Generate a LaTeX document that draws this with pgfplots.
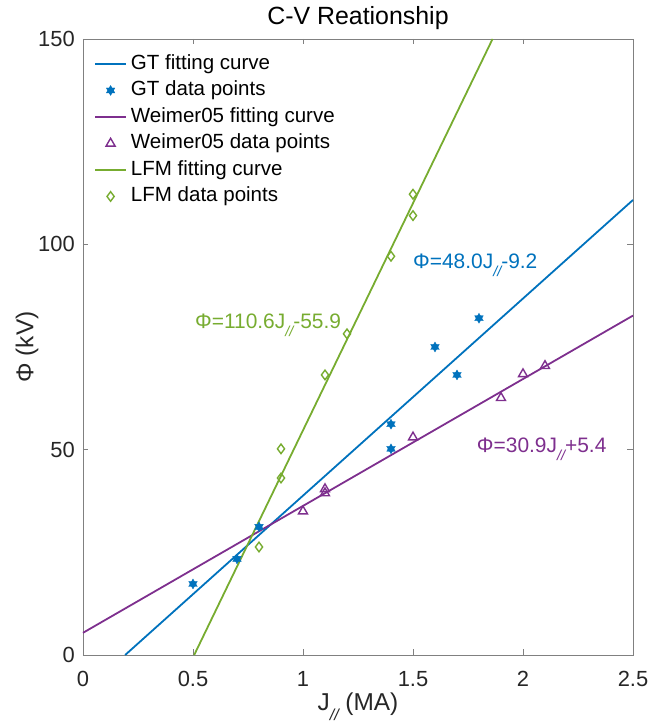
\documentclass[border=0pt]{standalone}
\usepackage{fontspec}
\setmainfont{Liberation Sans}
\usepackage{pgfplots}
\pgfplotsset{compat=1.18}
\definecolor{mblue}{RGB}{0,114,189}
\definecolor{mpurple}{RGB}{126,47,142}
\definecolor{mgreen}{RGB}{119,172,48}
\definecolor{axgray}{RGB}{128,128,128}
\definecolor{txt}{RGB}{38,38,38}
\pgfdeclareplotmark{hexagram}{%
  \pgfpathmoveto{\pgfqpointpolar{90}{\pgfplotmarksize}}%
  \pgfpathlineto{\pgfqpointpolar{210}{\pgfplotmarksize}}%
  \pgfpathlineto{\pgfqpointpolar{330}{\pgfplotmarksize}}%
  \pgfpathclose
  \pgfpathmoveto{\pgfqpointpolar{270}{\pgfplotmarksize}}%
  \pgfpathlineto{\pgfqpointpolar{30}{\pgfplotmarksize}}%
  \pgfpathlineto{\pgfqpointpolar{150}{\pgfplotmarksize}}%
  \pgfpathclose
  \pgfusepathqfillstroke}
\newcommand{\para}{\raisebox{-8.5bp}{\fontsize{14.5}{14.5}\selectfont\itshape //}}
\newcommand{\paraL}{\raisebox{-10bp}{\fontsize{16}{16}\selectfont\itshape //}}
\begin{document}
\begin{tikzpicture}
\begin{axis}[
  scale only axis, width=550bp, height=616bp,
  xmin=0, xmax=2.5, ymin=0, ymax=150,
  xtick={0,0.5,1,1.5,2,2.5}, ytick={0,50,100,150},
  xticklabels={0,0.5,1,1.5,2,2.5},
  tick align=inside, xtick pos=both, ytick pos=both, ticklabel pos=left,
  major tick length=5.5bp,
  axis line style={axgray, line width=0.8bp},
  tick style={axgray, line width=0.8bp},
  /pgf/number format/assume math mode=true,
  tick label style={font=\fontsize{22}{22}\selectfont, text=txt},
  xticklabel style={anchor=north, inner sep=0pt, yshift=-16bp},
  yticklabel style={anchor=east, inner sep=0pt, xshift=-8bp},
  title={C-V Reationship},
  title style={font=\fontsize{25}{25}\selectfont, text=black, anchor=base, inner sep=0pt, at={(axis description cs:0.5,1)}, yshift=9bp},
  xlabel={J\paraL\ (MA)},
  xlabel style={font=\fontsize{24.5}{24.5}\selectfont, text=txt, at={(axis description cs:0.5,-0.09)}, anchor=base, inner sep=0pt},
  ylabel={Φ (kV)},
  ylabel style={font=\fontsize{24.5}{24.5}\selectfont, text=txt, at={(axis description cs:-0.09,0.5)}, anchor=base, rotate=0, inner sep=0pt},
  legend style={at={(rel axis cs:0.02,0.9756)}, anchor=north west, draw=none, fill=none,
    font=\fontsize{20.6}{20.6}\selectfont, inner sep=0pt, row sep=7bp,
    nodes={inner sep=0pt, text height=15bp, text depth=4.5bp}},
  legend cell align=left,
  legend image code/.code={\draw[mark repeat=2,mark phase=2] plot coordinates {(0bp,0bp) (15.5bp,0bp) (31bp,0bp)};},
  /tikz/every odd column/.append style={column sep=4bp},
  clip=false,
]
% GT
\addplot[mblue, line width=1.8bp, no marks] coordinates {(0.19167,0) (2.5,110.8)};
\addlegendentry{GT fitting curve}
\addplot[mblue, only marks, mark=hexagram, mark size=5bp, mark options={fill=mblue, line width=0.3bp}] coordinates {
  (0.5,17.3) (0.7,23.4) (0.8,31.2) (1.4,56.2) (1.4,50.2) (1.6,75.0) (1.7,68.2) (1.8,82.0)};
\addlegendentry{GT data points}
% Weimer05
\addplot[mpurple, line width=1.8bp, no marks] coordinates {(0,5.4) (2.5,82.65)};
\addlegendentry{Weimer05 fitting curve}
\addplot[mpurple, only marks, mark=triangle, mark size=5.2bp, mark options={line width=1.4bp}] coordinates {
  (1.0,35.0) (1.1,40.4) (1.1,39.4) (1.5,53.0) (1.9,62.6) (2.0,68.4) (2.1,70.4)};
\addlegendentry{Weimer05 data points}
% LFM
\addplot[mgreen, line width=1.8bp, no marks] coordinates {(0.50542,0) (1.86166,150)};
\addlegendentry{LFM fitting curve}
\addplot[mgreen, only marks, mark=diamond, mark size=4.8bp, mark options={line width=1.4bp}] coordinates {
  (0.8,26.3) (0.9,43.1) (0.9,50.2) (1.1,68.2) (1.2,78.2) (1.4,97.1) (1.5,107.0) (1.5,112.2)};
\addlegendentry{LFM data points}
\node[anchor=base west, inner sep=0pt, text=mblue, font=\fontsize{21}{21}\selectfont] at (axis cs:1.5,94.2) {Φ=48.0J\para-9.2};
\node[anchor=base west, inner sep=0pt, text=mgreen, font=\fontsize{21}{21}\selectfont] at (axis cs:0.509,79.6) {Φ=110.6J\para-55.9};
\node[anchor=base west, inner sep=0pt, text=mpurple, font=\fontsize{21}{21}\selectfont] at (axis cs:1.79,49.4) {Φ=30.9J\para+5.4};
\path (rel axis cs:-0.1509,-0.1169) rectangle (rel axis cs:1.0273,1.0633);
\end{axis}
\end{tikzpicture}
\end{document}
